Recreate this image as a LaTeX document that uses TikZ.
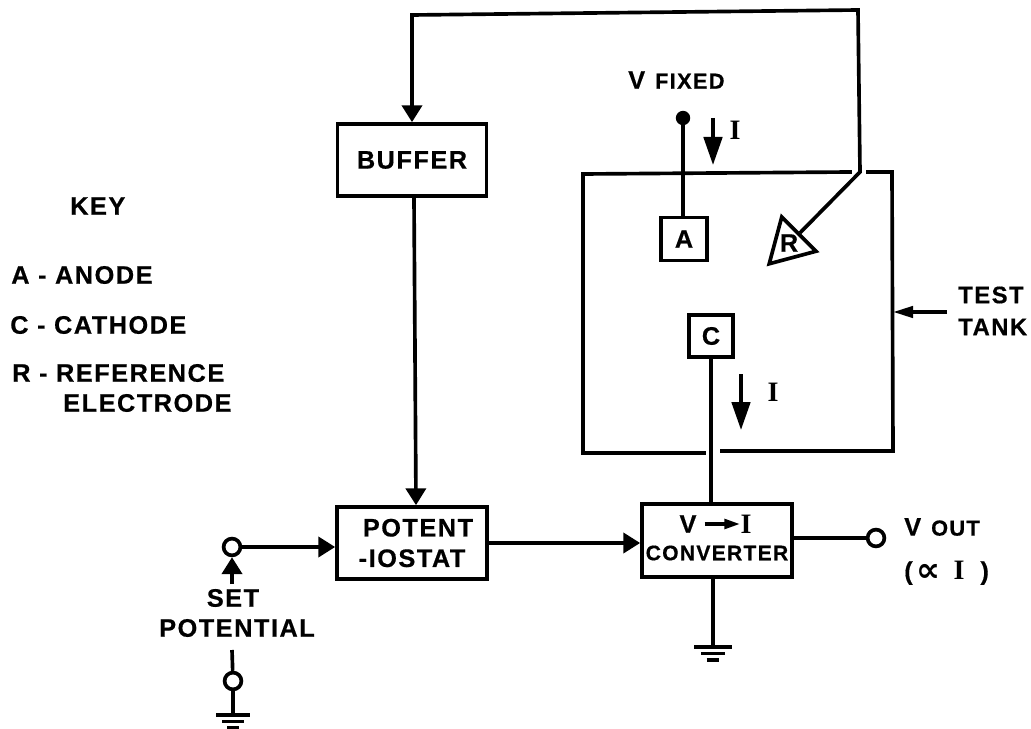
\documentclass[tikz,border=0pt]{standalone}
\usepackage{fontspec}
\setmainfont[LetterSpace=6,BoldFeatures={FakeBold=0.5}]{Liberation Sans}
\newfontfamily\serifI{Liberation Serif}
\newfontfamily\symbolfont{DejaVu Sans}
\usetikzlibrary{arrows.meta,calc,shapes.geometric}
\newcommand{\bigtext}{\fontsize{18}{21}\selectfont}
\newcommand{\smalltext}{\fontsize{15.5}{18}\selectfont}
\newcommand{\curI}{{\serifI\fontsize{20}{20}\selectfont I}}
\newcommand{\earth}[2]{% at, half width of top bar
  \draw[wire] ($#1+(-#2,0)$) -- ($#1+(#2,0)$);
  \draw[wire] ($#1+(-0.63*#2,-0.165)$) -- ($#1+(0.63*#2,-0.165)$);
  \draw[wire] ($#1+(-0.33*#2,-0.33)$) -- ($#1+(0.33*#2,-0.33)$);}
\begin{document}
\begin{tikzpicture}[>={Triangle[length=4.2mm,width=5mm]},
    every node/.style={font=\bfseries\bigtext,inner sep=0pt},
    wire/.style={line width=2.6pt},
    box/.style={draw,line width=2.6pt,align=center,inner sep=0pt},
    term/.style={draw,circle,line width=2.6pt,minimum size=4.2mm,fill=white},
    curarrow/.style={line width=2.6pt,-{Triangle[length=7mm,width=4.6mm]}},
    thinarrow/.style={line width=2.6pt,-{Triangle[length=5mm,width=2.8mm]}}]
  \useasboundingbox (0,0) rectangle (25.775,18.2);
  % ---- key ----
  \node[anchor=west] (keyhead) at (1.75,13.05) {KEY};
  \node[anchor=west] (keya) at (0.275,11.325) {A - ANODE};
  \node[anchor=west] (keyc) at (0.25,10.075) {C - CATHODE};
  \node[anchor=west] (keyr) at (0.3,8.875) {R - REFERENCE};
  \node[anchor=west] (keye) at (1.575,8.125) {ELECTRODE};
  % ---- blocks ----
  \node[box,minimum width=3.725cm,minimum height=1.8cm] (buffer) at (10.3,14.2) {BUFFER};
  \node[box,minimum width=3.75cm,minimum height=1.8cm] (potent) at (10.3,4.625)
       {\hspace*{3mm}POTENT\\[0.7pt]-IOSTAT};
  \node[box,minimum width=3.75cm,minimum height=1.82cm] (conv) at (17.925,4.69) {};
  \node (convv) at (17.2,5.1) {V};
  \node (convi) at (18.65,5.1) {\curI};
  \node[font=\bfseries\fontsize{15}{18}\selectfont] (convt) at (17.925,4.375) {CONVERTER};
  \draw[line width=2.6pt,-{Triangle[length=4mm,width=2.4mm]}] (convv.east)++(0.2,0) -- (convi.west);
  % ---- test tank ----
  \coordinate (tanktr) at (22.3,13.9);
  \coordinate (tankbr) at (22.325,6.925);
  \coordinate (tankbl) at (14.575,6.875);
  \coordinate (tanktl) at (14.575,13.85);
  \draw[wire,line cap=rect] (21.7,13.9) -- (tanktr) -- (tankbr) -- (18.05,6.925);
  \draw[wire,line cap=rect] (17.6,6.875) -- (tankbl) -- (tanktl) -- (21.25,13.9);
  \node[box,minimum width=1.15cm,minimum height=1.08cm] (anode) at (17.1,12.225) {A};
  \node[box,minimum width=1.1cm,minimum height=1.05cm] (cathode) at (17.775,9.8) {C};
  \node[draw,line width=2.6pt,regular polygon,regular polygon sides=3,shape border rotate=15,
        minimum size=1.4cm] (refel) at (19.725,12.1) {};
  \node (reflab) at (19.725,12.125) {R};
  % ---- feedback ----
  \coordinate (fbtl) at (10.3,17.825);
  \coordinate (fbtr) at (21.45,17.95);
  \coordinate (fbknee) at (21.5,13.9);
  \draw[wire,->] (refel) -- (fbknee) -- (fbtr) -- (fbtl) -- (buffer.north);
  \draw[wire,->] ($(buffer.south)+(0.05,0)$) -- ($(potent.north)+(0.1,0)$);
  % ---- anode and cathode wires ----
  \node[circle,fill=black,minimum size=3.6mm] (vdot) at (17.075,15.25) {};
  \draw[wire] (vdot) -- (vdot |- anode.north);
  \node[anchor=west] (vfixed) at (15.7,16.2) {V\hspace{2.5mm}{\smalltext FIXED}};
  \coordinate (ia) at (17.825,15.25);
  \draw[curarrow] (ia) -- (17.825,14.075);
  \node (ialab) at (18.375,14.95) {\curI};
  \draw[wire] (cathode.south) -- (cathode.south |- conv.north);
  \coordinate (ic) at (18.525,8.85);
  \draw[curarrow] (ic) -- (18.525,7.45);
  \node (iclab) at (19.325,8.4) {\curI};
  \coordinate (ttk) at (23.675,10.4);
  \draw[thinarrow] (ttk) -- (ttk -| tankbr);
  \node[anchor=west,font=\bfseries\fontsize{17}{20}\selectfont] (test) at (23.95,10.825) {TEST};
  \node[anchor=west,font=\bfseries\fontsize{17}{20}\selectfont] (tank) at (23.95,10.025) {TANK};
  % ---- signal path ----
  \node[term] (setin) at (5.8,4.525) {};
  \coordinate (setup) at (5.8,3.6);
  \draw[wire,->] (setin) -- (setin -| potent.west);
  \draw[wire,->] (setup) -- (setin);
  \node (setlab) at (5.825,3.25) {SET};
  \node (potlab) at (5.925,2.5) {POTENTIAL};
  \draw[wire,->] (potent.east) -- (potent.east -| conv.west);
  \node[term] (vout) at (21.9,4.75) {};
  \draw[wire] (vout -| conv.east) -- (vout);
  \node[anchor=west] (voutlab) at (22.6,5.025) {V\hspace{2.5mm}{\smalltext OUT}};
  \node[anchor=west] (proplab) at (22.6,3.875)
       {(\hspace{1mm}\raisebox{-0.5mm}{\symbolfont\fontsize{24}{24}\selectfont ∝}\hspace{3.2mm}\curI\hspace{4mm})};
  % ---- grounds ----
  \coordinate (gndc) at (17.825,2.025);
  \draw[wire] (gndc |- conv.south) -- (gndc);
  \earth{(gndc)}{0.475}
  \coordinate (setstub) at (5.8,1.95);
  \node[term] (setlow) at (5.825,1.175) {};
  \coordinate (gnds) at (5.825,0.325);
  \draw[wire] (setstub) -- (setlow) -- (gnds);
  \earth{(gnds)}{0.425}
\end{tikzpicture}
\end{document}
